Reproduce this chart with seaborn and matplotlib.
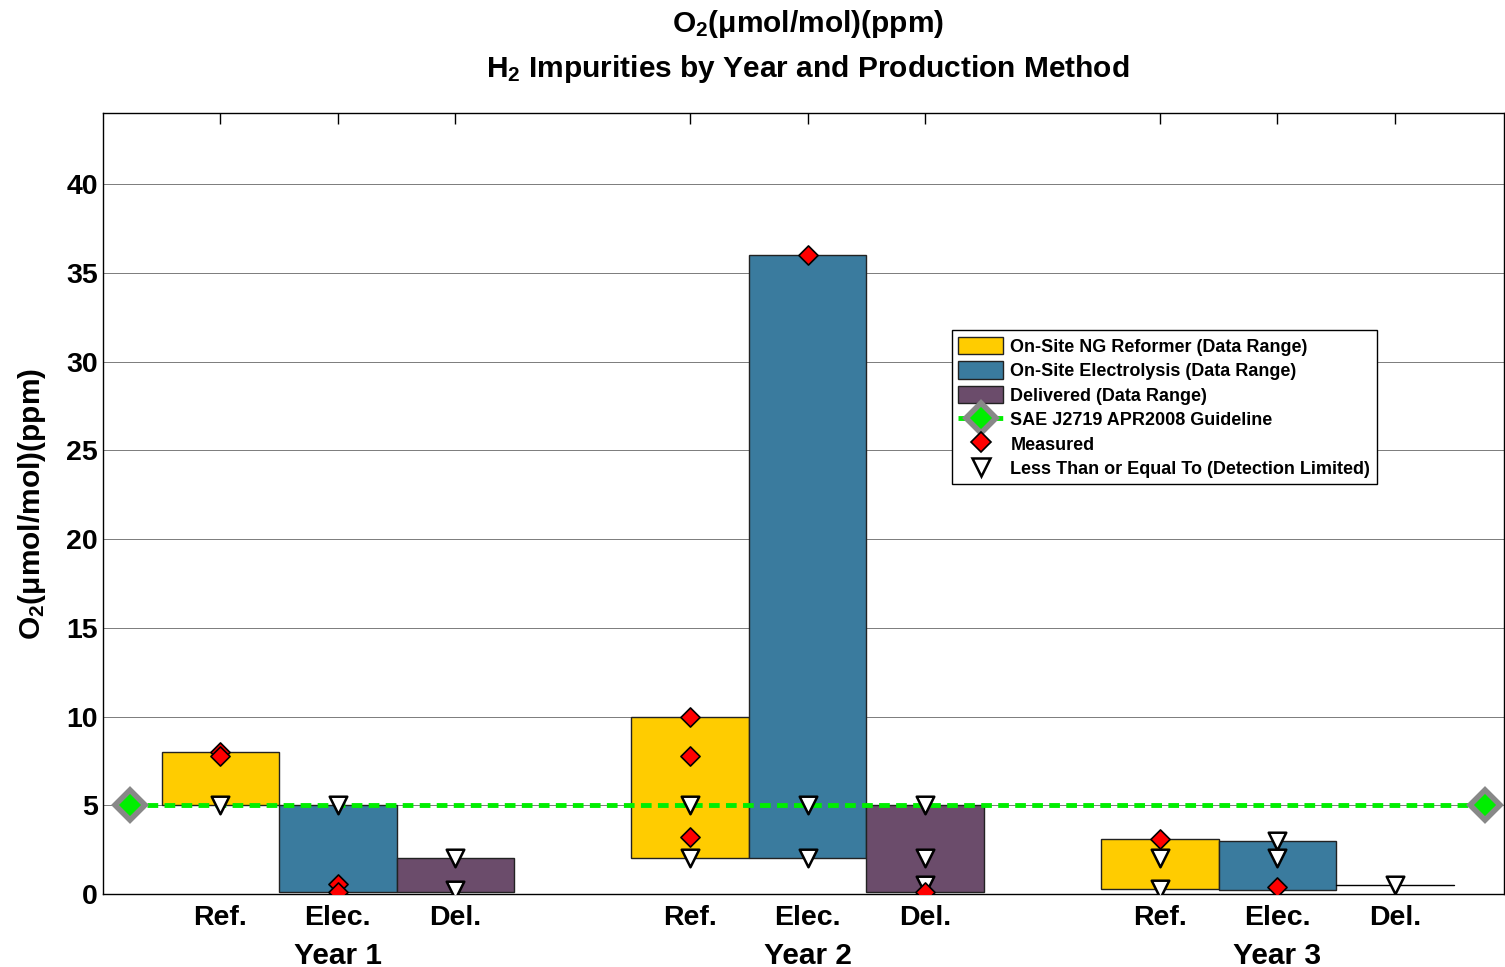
import numpy as np
import pandas as pd
import seaborn as sns
import matplotlib.pyplot as plt
from matplotlib.patches import Patch
from matplotlib.lines import Line2D

# category layout
years = ['Year 1', 'Year 2', 'Year 3']
methods = ['Ref.', 'Elec.', 'Del.']
xpos = [1, 2, 3, 5, 6, 7, 9, 10, 11]

# data ranges (low, high) per year/method, ppm
range_low = [5.0, 0.1, 0.1, 2.0, 2.0, 0.1, 0.3, 0.25, 0.5]
range_high = [8.0, 5.0, 2.0, 10.0, 36.0, 5.0, 3.1, 3.0, 0.5]

# measured values
meas_x = [1, 1, 2, 2, 5, 5, 5, 6, 7, 9, 10]
meas_y = [8.0, 7.75, 0.55, 0.1, 10.0, 7.8, 3.2, 36.0, 0.1, 3.1, 0.4]

# detection limited values
dl_x = [1, 2, 3, 3, 5, 5, 6, 6, 7, 7, 7, 9, 9, 10, 10, 11]
dl_y = [5.0, 5.0, 2.0, 0.2, 5.0, 2.0, 5.0, 2.0, 5.0, 2.0, 0.5, 2.0, 0.3, 3.0, 2.0, 0.5]

guide_x = [0.23, 11.77]
guide_y = [5.0, 5.0]

colors = ['#FFCC00', '#3A7B9E', '#6B4C6B']
labels = ['On-Site NG Reformer (Data Range)', 'On-Site Electrolysis (Data Range)',
          'Delivered (Data Range)']

sns.set_theme(style='white')
plt.rcParams['font.family'] = ['Liberation Sans', 'DejaVu Sans']
plt.rcParams['font.weight'] = 'bold'
plt.rcParams['text.color'] = 'black'
plt.rcParams['axes.labelcolor'] = 'black'
plt.rcParams['mathtext.fontset'] = 'custom'
plt.rcParams['mathtext.rm'] = 'Liberation Sans:bold'
plt.rcParams['mathtext.it'] = 'Liberation Sans:bold'
plt.rcParams['mathtext.bf'] = 'Liberation Sans:bold'
plt.rcParams['mathtext.default'] = 'rm'

fig = plt.figure(figsize=(15.05, 9.67), dpi=100)
ax = fig.add_axes([0.0684, 0.0755, 0.931, 0.8075])

ax.yaxis.grid(True, color='#666666', linewidth=0.6)
ax.set_axisbelow(True)

df = pd.DataFrame({'x': xpos, 'low': range_low, 'high': range_high,
                   'method': methods * 3})
for i, row in df.iterrows():
    c = colors[i % 3]
    h = row['high'] - row['low']
    if h > 0:
        ax.bar(row['x'], h, bottom=row['low'], width=1.0, color=c,
               edgecolor='#222222', linewidth=1.0, zorder=2)
    else:
        ax.plot([row['x'] - 0.5, row['x'] + 0.5], [row['low']] * 2,
                color='black', linewidth=1.0, zorder=2)

ax.plot(guide_x, guide_y, color='#00EE00', linestyle=(0, (2.2, 1.3)),
        linewidth=3.5, zorder=3)
ax.plot(guide_x, guide_y, linestyle='none', marker='D', markersize=15,
        markerfacecolor='#00EE00', markeredgecolor='#888888',
        markeredgewidth=4, zorder=4)

sns.scatterplot(x=dl_x, y=dl_y, marker='v', s=160, color='white',
                edgecolor='black', linewidth=1.8, ax=ax, zorder=5)
sns.scatterplot(x=meas_x, y=meas_y, marker='D', s=95, color='red',
                edgecolor='black', linewidth=1.2, ax=ax, zorder=6)

ax.set_xlim(0, 11.93)
ax.set_ylim(0, 44)
ax.set_yticks([0, 5, 10, 15, 20, 25, 30, 35, 40])
ax.set_xticks(xpos)
ax.set_xticklabels(methods * 3)
ax.tick_params(axis='both', direction='in', length=8, width=1,
               labelsize=20.5, top=True, right=False, colors='black')
ax.tick_params(axis='x', pad=8)
for lab in ax.get_xticklabels() + ax.get_yticklabels():
    lab.set_fontweight('bold')
for s in ax.spines.values():
    s.set_color('black')
    s.set_linewidth(1.0)

for k, yr in enumerate(years):
    ax.text(xpos[3 * k + 1], -0.079, yr, transform=ax.get_xaxis_transform(),
            ha='center', va='center', fontsize=21.5, fontweight='bold')

ax.set_ylabel('O$_2$(μmol/mol)(ppm)', fontsize=21.5, fontweight='bold', labelpad=13)
fig.text(0.537, 0.975, 'O$_2$(μmol/mol)(ppm)', ha='center', va='center',
         fontsize=21.5, fontweight='bold')
fig.text(0.537, 0.929, 'H$_2$ Impurities by Year and Production Method',
         ha='center', va='center', fontsize=21.5, fontweight='bold')

handles = [Patch(facecolor=c, edgecolor='#222222') for c in colors]
guide_h = Line2D([], [], color='#00EE00', linestyle=(0, (2.2, 1.3)), linewidth=3.5,
                 marker='D', markersize=15, markerfacecolor='#00EE00',
                 markeredgecolor='#888888', markeredgewidth=4)
meas_h = Line2D([], [], linestyle='none', marker='D', markersize=10,
                markerfacecolor='red', markeredgecolor='black', markeredgewidth=1.2)
dl_h = Line2D([], [], linestyle='none', marker='v', markersize=13,
              markerfacecolor='white', markeredgecolor='black', markeredgewidth=1.8)
leg = ax.legend(handles + [guide_h, meas_h, dl_h],
                labels + ['SAE J2719 APR2008 Guideline', 'Measured',
                          'Less Than or Equal To (Detection Limited)'],
                loc='upper right', bbox_to_anchor=(0.909, 0.722), borderaxespad=0,
                fontsize=13, frameon=True, fancybox=False, edgecolor='black',
                framealpha=1, labelspacing=0.3, handlelength=2.5,
                handleheight=1.15, handletextpad=0.4, borderpad=0.35)
leg.get_frame().set_linewidth(1.0)
for t in leg.get_texts():
    t.set_fontweight('bold')

fig.savefig('out.png', dpi=100)
